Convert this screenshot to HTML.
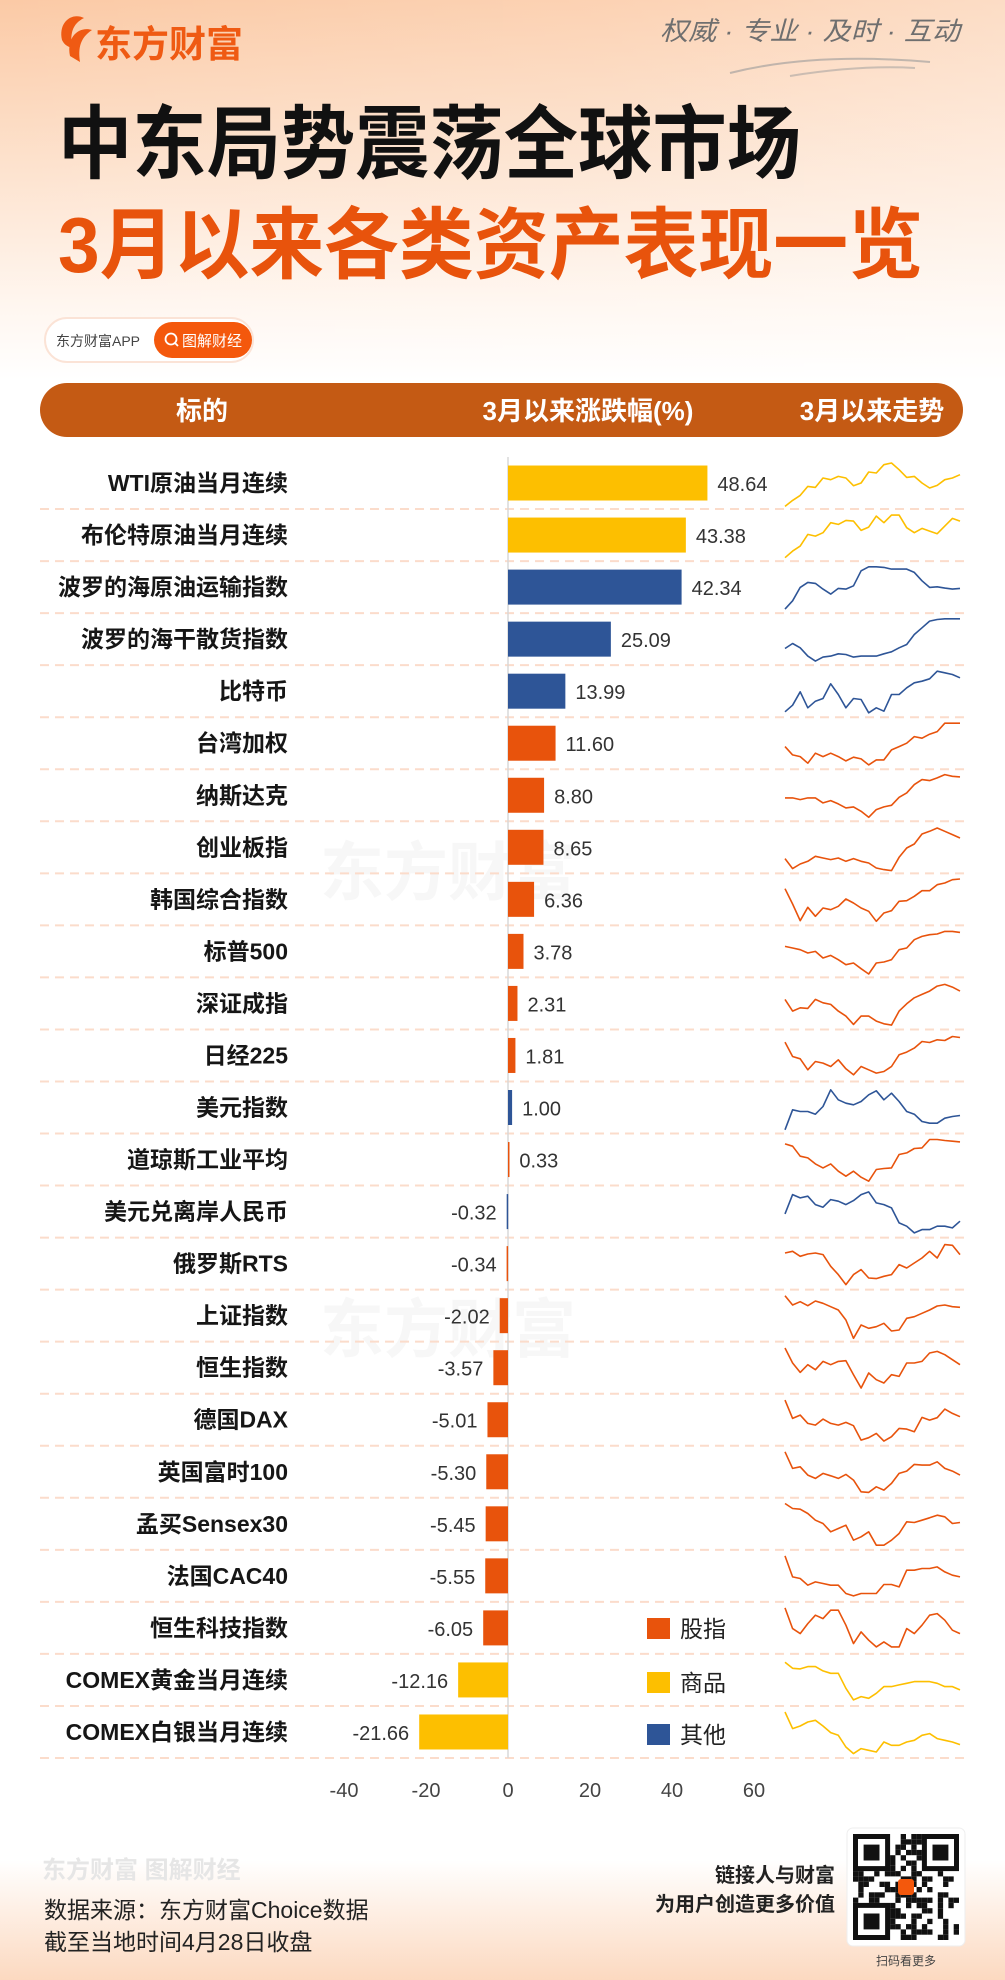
<!DOCTYPE html>
<html><head><meta charset="utf-8">
<style>
html,body{margin:0;padding:0;background:#fff}
svg{display:block}
text{font-family:"Liberation Sans","Noto Sans CJK SC",sans-serif}
</style></head>
<body>
<svg id="page" width="1005" height="1980" viewBox="0 0 1005 1980" xmlns="http://www.w3.org/2000/svg">
<defs>
<linearGradient id="topg" x1="0" y1="0" x2="0" y2="1">
<stop offset="0" stop-color="#fbcaa6"/><stop offset="0.45" stop-color="#fde3cf"/><stop offset="0.8" stop-color="#fff6ef"/><stop offset="1" stop-color="#ffffff"/>
</linearGradient>
<linearGradient id="topx" x1="0" y1="0" x2="1" y2="0">
<stop offset="0" stop-color="#ffffff" stop-opacity="0"/><stop offset="0.6" stop-color="#ffffff" stop-opacity="0.15"/><stop offset="1" stop-color="#ffffff" stop-opacity="0.35"/>
</linearGradient>
<linearGradient id="botg" x1="0" y1="0" x2="0" y2="1">
<stop offset="0" stop-color="#ffffff"/><stop offset="1" stop-color="#fcd9c0"/>
</linearGradient>
</defs>
<rect width="1005" height="1980" fill="#fff"/>
<rect x="0" y="0" width="1005" height="380" fill="url(#topg)"/>
<rect x="0" y="0" width="1005" height="380" fill="url(#topx)"/>
<rect x="0" y="1860" width="1005" height="120" fill="url(#botg)"/>

<g>
<path d="M62 40 C58 22 72 12 84 18 C72 24 70 34 72 48 C66 46 64 44 62 40Z M70 56 C66 36 80 26 92 30 C80 38 78 48 80 62Z" fill="#ef5a13"/>
<text x="95" y="57" font-size="37" font-weight="bold" fill="#ef5a13">东方财富</text>
</g>
<text x="660" y="40" font-size="26" font-style="italic" fill="#6f6f6f" textLength="300" lengthAdjust="spacingAndGlyphs">权威 · 专业 · 及时 · 互动</text>
<path d="M730 73 C790 58 860 56 930 62" stroke="#999" stroke-width="2" fill="none" opacity="0.6"/>
<path d="M790 76 C840 68 880 66 915 68" stroke="#999" stroke-width="2" fill="none" opacity="0.5"/>

<text x="58" y="172" font-size="80" font-weight="bold" fill="#111" textLength="743" lengthAdjust="spacingAndGlyphs">中东局势震荡全球市场</text>
<text x="58" y="272" font-size="78" font-weight="bold" fill="#e8530c" textLength="865" lengthAdjust="spacingAndGlyphs">3月以来各类资产表现一览</text>

<g>
<rect x="45" y="318" width="208" height="44" rx="22" fill="#fff" stroke="#fbe3d6" stroke-width="2"/>
<text x="56" y="346" font-size="14" fill="#444">东方财富APP</text>
<rect x="154" y="322" width="98" height="36" rx="18" fill="#f4580c"/>
<circle cx="171" cy="339" r="5.5" stroke="#fff" stroke-width="1.8" fill="none"/>
<line x1="175" y1="343" x2="178" y2="346" stroke="#fff" stroke-width="1.8"/>
<text x="182" y="346" font-size="15" fill="#fff">图解财经</text>
</g>

<g>
<rect x="40" y="383" width="923" height="54" rx="27" fill="#c45a14"/>
<text x="202" y="420" font-size="26" font-weight="bold" fill="#fff" text-anchor="middle">标的</text>
<text x="588" y="420" font-size="26" font-weight="bold" fill="#fff" text-anchor="middle">3月以来涨跌幅(%)</text>
<text x="872" y="420" font-size="26" font-weight="bold" fill="#fff" text-anchor="middle">3月以来走势</text>
</g>

<text x="320" y="895" font-size="64" font-weight="bold" fill="#f7f7f7">东方财富</text>
<text x="320" y="1352" font-size="64" font-weight="bold" fill="#f7f7f7">东方财富</text>

<g id="chart"></g>

<g>
<rect x="647" y="1618" width="23" height="21" fill="#e8530c"/>
<text x="680" y="1637" font-size="23" fill="#222">股指</text>
<rect x="647" y="1672" width="23" height="21" fill="#fdbf00"/>
<text x="680" y="1691" font-size="23" fill="#222">商品</text>
<rect x="647" y="1724" width="23" height="21" fill="#2e5597"/>
<text x="680" y="1743" font-size="23" fill="#222">其他</text>
</g>

<g>
<text x="42" y="1878" font-size="24" font-weight="bold" fill="#e6e6e6">东方财富 图解财经</text>
<text x="44" y="1918" font-size="23" fill="#222">数据来源：东方财富Choice数据</text>
<text x="44" y="1950" font-size="23" fill="#222">截至当地时间4月28日收盘</text>
<text x="835" y="1882" font-size="20" font-weight="bold" fill="#222" text-anchor="end">链接人与财富</text>
<text x="835" y="1911" font-size="20" font-weight="bold" fill="#222" text-anchor="end">为用户创造更多价值</text>
<g>
<rect x="847" y="1828" width="118" height="118" rx="6" fill="#fff" stroke="#eee"/>
<g id="qr"></g>
</g>
<text x="906" y="1965" font-size="12" fill="#444" text-anchor="middle">扫码看更多</text>
</g>
</svg>
<script>
const labels = ["WTI原油当月连续","布伦特原油当月连续","波罗的海原油运输指数","波罗的海干散货指数","比特币","台湾加权","纳斯达克","创业板指","韩国综合指数","标普500","深证成指","日经225","美元指数","道琼斯工业平均","美元兑离岸人民币","俄罗斯RTS","上证指数","恒生指数","德国DAX","英国富时100","孟买Sensex30","法国CAC40","恒生科技指数","COMEX黄金当月连续","COMEX白银当月连续"];
const values = [48.64,43.38,42.34,25.09,13.99,11.60,8.80,8.65,6.36,3.78,2.31,1.81,1.00,0.33,-0.32,-0.34,-2.02,-3.57,-5.01,-5.30,-5.45,-5.55,-6.05,-12.16,-21.66];
const valueText = ["48.64","43.38","42.34","25.09","13.99","11.60","8.80","8.65","6.36","3.78","2.31","1.81","1.00","0.33","-0.32","-0.34","-2.02","-3.57","-5.01","-5.30","-5.45","-5.55","-6.05","-12.16","-21.66"];
const categories = ["c","c","o","o","o","i","i","i","i","i","i","i","o","i","o","i","i","i","i","i","i","i","i","c","c"];
const xTicks = [-40,-20,0,20,40,60];
const trend0 = [8,26,41,68,65,93,88,98,93,70,78,111,108,133,138,118,95,98,78,63,71,88,93,103];
const trend1 = [10,30,45,80,75,85,115,110,122,120,92,102,135,115,138,138,100,85,98,90,82,105,128,120];
const trend2 = [12,37,77,92,89,72,57,74,72,82,127,139,139,137,132,132,132,122,97,77,79,75,72,74];
const trend3 = [50,65,52,27,12,24,27,34,32,24,27,27,27,34,40,52,62,92,112,132,137,139,139,139];
const trend4 = [16,36,76,28,48,56,100,68,28,56,53,13,28,18,68,68,88,103,108,115,138,133,128,118];
const trend5 = [68,43,38,18,48,38,48,38,25,36,31,13,28,28,58,68,78,98,93,105,113,138,138,138];
const trend6 = [70,70,65,70,70,55,62,52,40,43,30,12,35,43,48,72,85,110,125,122,130,140,135,133];
const trend7 = [44,14,28,36,51,46,41,46,36,44,36,31,16,11,8,48,76,88,118,126,136,126,116,106];
const trend8 = [110,64,14,54,27,52,47,57,79,67,52,42,12,37,44,72,74,87,104,104,122,127,137,139];
const trend9 = [93,88,83,73,78,58,66,53,38,43,26,10,43,46,53,83,88,113,123,128,130,138,138,135];
const trend10 = [90,55,65,63,90,80,75,55,40,15,40,40,25,17,13,55,77,95,105,115,130,135,127,115];
const trend11 = [118,75,68,35,60,55,45,65,38,20,45,35,25,30,45,80,88,100,120,117,125,123,135,132];
const trend12 = [11,71,66,66,58,81,131,101,91,86,96,116,128,101,121,96,66,58,36,31,31,46,51,54];
const trend13 = [125,118,88,83,65,53,65,43,28,43,25,13,48,51,53,93,98,111,113,138,138,135,133,131];
const trend14 = [71,129,119,124,99,91,114,109,99,111,129,137,104,99,89,44,34,14,24,24,34,34,29,49];
const trend15 = [110,115,100,107,110,105,70,45,15,45,60,35,33,40,45,75,65,80,95,115,95,135,133,105];
const trend16 = [138,110,120,108,122,115,105,95,65,10,50,40,45,55,32,35,70,75,85,95,107,110,105,103];
const trend17 = [137,92,64,87,72,97,87,97,99,57,17,62,42,32,57,52,92,92,97,122,127,117,102,87];
const trend18 = [137,82,92,67,62,80,67,62,70,60,17,24,37,14,27,52,50,42,85,77,84,110,97,87];
const trend19 = [138,88,93,68,58,73,66,58,70,53,18,16,33,23,43,73,80,100,98,98,108,88,80,68];
const trend20 = [139,124,122,109,89,79,54,64,74,29,39,54,14,14,29,49,84,82,89,96,104,99,79,82];
const trend21 = [138,75,70,50,60,55,50,50,25,18,25,25,25,52,52,45,95,95,100,100,105,90,80,75];
const trend22 = [138,76,61,91,116,106,131,131,86,31,66,41,21,36,21,21,76,61,86,116,121,101,71,61];
const trend23 = [131,113,111,118,118,105,98,98,53,18,28,23,38,58,58,63,68,73,73,73,68,58,58,48];
const trend24 = [138,88,96,108,113,96,76,68,33,13,28,23,18,48,38,38,48,53,68,73,58,53,48,40];
const trends = [trend0,trend1,trend2,trend3,trend4,trend5,trend6,trend7,trend8,trend9,trend10,trend11,trend12,trend13,trend14,trend15,trend16,trend17,trend18,trend19,trend20,trend21,trend22,trend23,trend24];

const NS = "http://www.w3.org/2000/svg";
const colorOf = {i:"#e8530c", c:"#fdbf00", o:"#2e5597"};
const zeroX = 508, unit = 4.1;
const xScale = v => zeroX + v * unit;
const rowTop = 457, rowH = 52.04;
const rowCenter = i => rowTop + rowH * (i + 0.5);
const sparkX0 = 785, sparkX1 = 960;
const sparkX = (j, n) => sparkX0 + (sparkX1 - sparkX0) * j / (n - 1);
const sparkY = (i, lv) => rowCenter(i) + 26 - lv / 3;
const chart = document.getElementById('chart');
function mk(tag, attrs, parent) {
  const e = document.createElementNS(NS, tag);
  for (const k in attrs) e.setAttribute(k, attrs[k]);
  (parent || chart).appendChild(e);
  return e;
}
for (let i = 1; i <= labels.length; i++) {
  const y = rowTop + rowH * i;
  const s = mk('line', {x1: 40, x2: 965, y1: y, y2: y, stroke: '#fbdccb', 'stroke-width': 2, 'stroke-dasharray': '9 6'});
  
  
}
const zl = mk('line', {x1: zeroX, x2: zeroX, y1: rowTop, y2: rowTop + rowH * labels.length, stroke: '#d8d8d8', 'stroke-width': 1.5});



labels.forEach((lab, i) => {
  const cy = rowCenter(i);
  const v = values[i];
  const t = mk('text', {x: 288, y: cy + 8, 'font-size': 23, 'font-weight': 'bold', fill: '#161616', 'text-anchor': 'end'});
  t.textContent = lab;
  
  
  const x0 = Math.min(xScale(0), xScale(v)), w = Math.max(Math.abs(xScale(v) - xScale(0)), 1.5);
  const b = mk('rect', {x: x0, y: cy - 17.5, width: w, height: 35, fill: colorOf[categories[i]]});
  
  
  const vt = mk('text', {x: v >= 0 ? xScale(v) + 10 : xScale(v) - 10, y: cy + 8, 'font-size': 20, fill: '#333', 'text-anchor': v >= 0 ? 'start' : 'end'});
  vt.textContent = valueText[i];
  
  
  const tr = trends[i];
  const pts = tr.map((lv, j) => sparkX(j, tr.length).toFixed(1) + ',' + sparkY(i, lv).toFixed(1)).join(' ');
  const pl = mk('polyline', {points: pts, fill: 'none', stroke: colorOf[categories[i]], 'stroke-width': 1.6, 'stroke-linejoin': 'round'});
  
  
});
xTicks.forEach(tk => {
  const t = mk('text', {x: xScale(tk), y: 1797, 'font-size': 20, fill: '#444', 'text-anchor': 'middle'});
  t.textContent = String(tk);
  
  
});
const qr = document.getElementById('qr');
const seed = [0x5a3c,0x1e77,0x6b21,0x3d48,0x72f1,0x0c9e,0x4ab5,0x19d3,0x6e0f,0x2b66,0x57c2,0x0f3a,0x7d19,0x34a7,0x61e8,0x1bc5,0x48f0,0x2d93,0x7a2e,0x0e61];
const cell = 5.3, ox = 853, oy = 1834;
for (let r = 0; r < 20; r++) for (let c = 0; c < 20; c++) {
  const fin = (r < 7 && c < 7) || (r < 7 && c > 12) || (r > 12 && c < 7);
  if (fin) continue;
  if ((seed[r] >> (c % 16)) & 1 ^ (c > 15 && (r + c) % 3 === 0)) mk('rect', {x: ox + c * cell, y: oy + r * cell, width: cell, height: cell, fill: '#111'}, qr);
}
[[0,0],[0,13],[13,0]].forEach(([r,c]) => {
  mk('rect', {x: ox + c*cell + 2.5, y: oy + r*cell + 2.5, width: cell*7 - 5, height: cell*7 - 5, fill: 'none', stroke: '#111', 'stroke-width': 5}, qr);
  mk('rect', {x: ox + c*cell + cell*2, y: oy + r*cell + cell*2, width: cell*3, height: cell*3, fill: '#111'}, qr);
});
mk('rect', {x: 898, y: 1879, width: 16, height: 16, rx: 3, fill: '#f4580c'}, qr);
</script>
</body></html>
